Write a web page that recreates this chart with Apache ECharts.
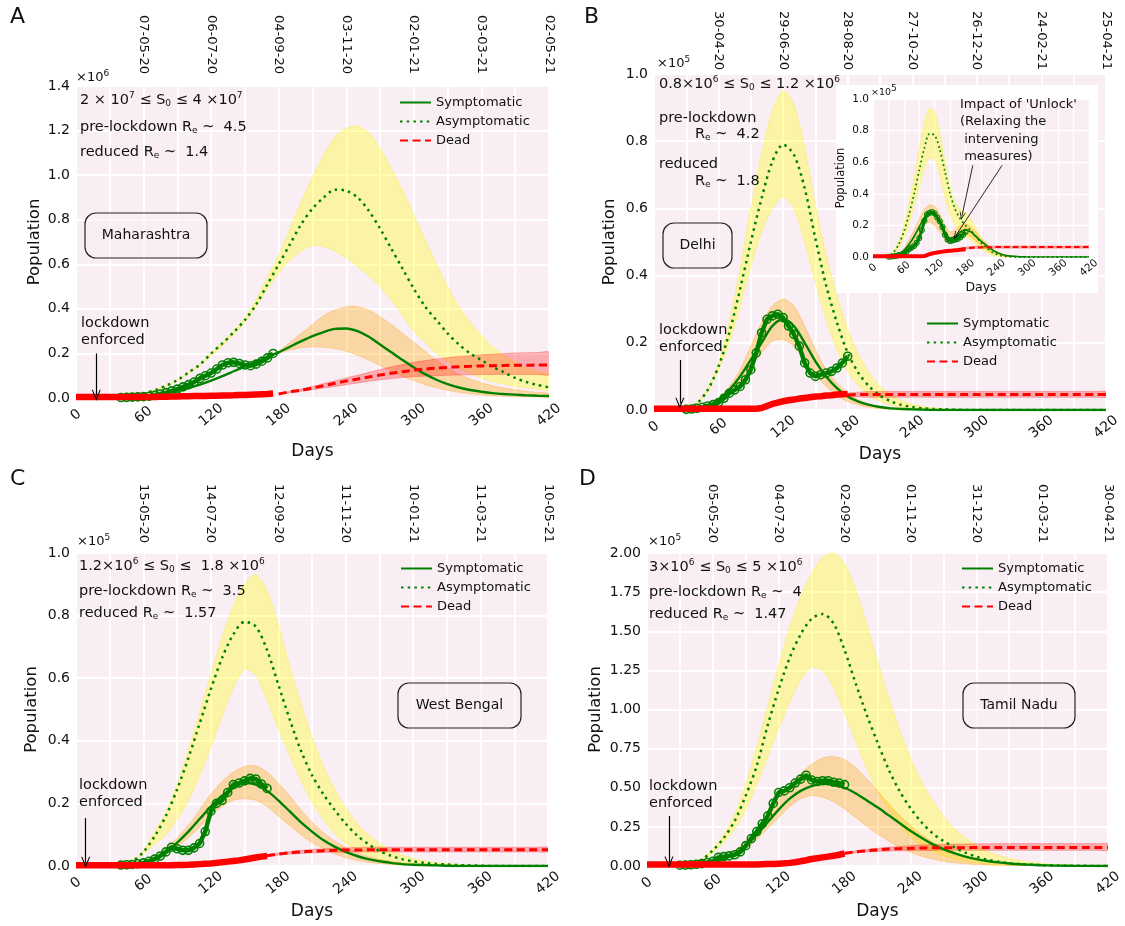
<!DOCTYPE html>
<html>
<head>
<meta charset="utf-8">
<script src="https://cdn.jsdelivr.net/npm/echarts@6/dist/echarts.min.js"></script>
<style>
html,body{margin:0;padding:0;background:#fff;}
#chart{width:1125px;height:926px;}
</style>
</head>
<body>
<div id="chart"></div>
<script>
// ---------- sampling grid (days) ----------
const DAYS = [0,10,20,30,40,50,60,70,80,90,100,110,120,130,140,150,160,170,180,190,200,210,220,230,240,250,260,270,280,290,300,310,320,330,340,350,360,370,380,390,400,410,420];
const DAYS5 = [0,5,10,15,20,25,30,35,40,45,50,55,60,65,70,75,80,85,90,95,100,105,110,115,120,125,130,135,140,145,150,155,160,165,170,175,180];

// ---------- top axis date labels (days 60..420) ----------
const A_dates = ['07-05-20','06-07-20','04-09-20','03-11-20','02-01-21','03-03-21','02-05-21'];
const B_dates = ['30-04-20','29-06-20','28-08-20','27-10-20','26-12-20','24-02-21','25-04-21'];
const C_dates = ['15-05-20','14-07-20','12-09-20','11-11-20','10-01-21','11-03-21','10-05-21'];
const D_dates = ['05-05-20','04-07-20','02-09-20','01-11-20','31-12-20','01-03-21','30-04-21'];

// ---------- Panel A : Maharashtra (x10^6) ----------
const A_asym   = [0,0,0,0.002,0.005,0.01,0.02,0.035,0.055,0.08,0.115,0.15,0.2,0.245,0.295,0.35,0.42,0.51,0.6,0.69,0.78,0.85,0.9,0.935,0.93,0.9,0.84,0.76,0.67,0.58,0.49,0.41,0.35,0.29,0.24,0.2,0.17,0.14,0.115,0.09,0.072,0.058,0.048];
const A_asymHi = [0,0,0,0.002,0.005,0.01,0.02,0.035,0.055,0.08,0.115,0.15,0.2,0.25,0.3,0.36,0.44,0.54,0.64,0.76,0.88,0.99,1.09,1.17,1.21,1.22,1.19,1.12,1.03,0.93,0.82,0.71,0.6,0.5,0.41,0.34,0.28,0.23,0.19,0.16,0.135,0.118,0.105];
const A_asymLo = [0,0,0,0.002,0.005,0.01,0.02,0.034,0.053,0.078,0.11,0.145,0.19,0.235,0.285,0.34,0.41,0.49,0.56,0.62,0.66,0.685,0.68,0.66,0.63,0.59,0.55,0.5,0.44,0.37,0.3,0.25,0.2,0.165,0.135,0.11,0.09,0.075,0.063,0.053,0.046,0.04,0.036];
const A_sym    = [0,0,0,0,0.001,0.003,0.006,0.01,0.021,0.032,0.045,0.06,0.078,0.098,0.12,0.142,0.163,0.185,0.205,0.23,0.255,0.278,0.296,0.31,0.312,0.3,0.275,0.24,0.205,0.17,0.137,0.107,0.082,0.062,0.047,0.036,0.028,0.022,0.018,0.015,0.012,0.01,0.009];
const A_symHi  = [0,0,0,0,0.001,0.003,0.006,0.01,0.021,0.032,0.045,0.06,0.078,0.098,0.12,0.142,0.163,0.186,0.21,0.25,0.29,0.33,0.37,0.395,0.41,0.41,0.395,0.365,0.33,0.29,0.25,0.21,0.17,0.135,0.107,0.085,0.068,0.055,0.045,0.037,0.03,0.025,0.021];
const A_symLo  = [0,0,0,0,0.001,0.003,0.006,0.01,0.02,0.031,0.044,0.058,0.076,0.096,0.117,0.139,0.16,0.182,0.2,0.215,0.225,0.23,0.228,0.222,0.21,0.192,0.17,0.145,0.12,0.098,0.078,0.06,0.046,0.035,0.026,0.019,0.014,0.01,0.008,0.006,0.005,0.004,0.003];
const A_dead   = [null,null,null,null,null,null,null,null,null,null,null,null,null,null,null,null,null,null,0.018,0.028,0.035,0.045,0.055,0.066,0.076,0.085,0.094,0.103,0.111,0.118,0.125,0.13,0.134,0.137,0.14,0.142,0.144,0.145,0.146,0.147,0.147,0.148,0.148];
const A_deadHi = [null,null,null,null,null,null,null,null,null,null,null,null,null,null,null,null,null,null,0.02,0.03,0.04,0.052,0.065,0.077,0.09,0.102,0.115,0.128,0.14,0.15,0.16,0.168,0.175,0.181,0.186,0.19,0.194,0.197,0.2,0.202,0.203,0.204,0.205];
const A_deadLo = [null,null,null,null,null,null,null,null,null,null,null,null,null,null,null,null,null,null,0.016,0.023,0.03,0.037,0.045,0.052,0.06,0.067,0.075,0.081,0.087,0.092,0.096,0.098,0.1,0.102,0.103,0.104,0.105,0.105,0.106,0.106,0.106,0.106,0.106];
const A_obsDays = DAYS5.slice(8, 36);
const A_obs    = [0.002,0.003,0.004,0.005,0.006,0.008,0.012,0.018,0.024,0.032,0.04,0.05,0.06,0.072,0.088,0.1,0.112,0.13,0.148,0.158,0.16,0.155,0.148,0.145,0.152,0.165,0.18,0.2];
const A_deathDays = DAYS5.slice(0, 36);
const A_deaths = [0.004,0.004,0.004,0.004,0.004,0.004,0.004,0.004,0.004,0.004,0.004,0.004,0.004,0.0045,0.005,0.0055,0.006,0.0065,0.007,0.0075,0.008,0.0085,0.009,0.0095,0.01,0.0105,0.011,0.0115,0.012,0.013,0.014,0.015,0.016,0.017,0.018,0.02];

// ---------- Panel B : Delhi (x10^5) ----------
const B_asym   = [0,0,0,0.003,0.02,0.06,0.13,0.23,0.36,0.5,0.63,0.74,0.79,0.76,0.66,0.51,0.37,0.26,0.17,0.11,0.07,0.043,0.026,0.015,0.009,0.005,0.003,0.002,0.001,0,0,0,0,0,0,0,0,0,0,0,0,0,0];
const B_asymHi = [0,0,0,0.003,0.021,0.065,0.14,0.26,0.42,0.6,0.76,0.89,0.95,0.91,0.78,0.61,0.46,0.34,0.24,0.165,0.11,0.07,0.045,0.028,0.017,0.01,0.006,0.003,0.002,0.001,0,0,0,0,0,0,0,0,0,0,0,0,0];
const B_asymLo = [0,0,0,0.003,0.019,0.055,0.12,0.2,0.31,0.43,0.53,0.6,0.635,0.6,0.5,0.38,0.27,0.18,0.115,0.072,0.044,0.026,0.015,0.009,0.005,0.003,0.002,0.001,0,0,0,0,0,0,0,0,0,0,0,0,0,0,0];
const B_sym    = [0,0,0,0.001,0.004,0.012,0.03,0.06,0.1,0.15,0.2,0.25,0.27,0.25,0.2,0.145,0.1,0.065,0.04,0.025,0.015,0.009,0.005,0.003,0.002,0.001,0,0,0,0,0,0,0,0,0,0,0,0,0,0,0,0,0];
const B_symHi  = [0,0,0,0.001,0.005,0.015,0.035,0.07,0.12,0.19,0.26,0.31,0.33,0.31,0.25,0.18,0.12,0.08,0.05,0.03,0.018,0.01,0.006,0.003,0.002,0.001,0,0,0,0,0,0,0,0,0,0,0,0,0,0,0,0,0];
const B_symLo  = [0,0,0,0.001,0.003,0.008,0.02,0.045,0.08,0.13,0.17,0.205,0.21,0.19,0.15,0.105,0.07,0.042,0.025,0.015,0.008,0.004,0.002,0.001,0,0,0,0,0,0,0,0,0,0,0,0,0,0,0,0,0,0,0];
const B_dead   = [null,null,null,null,null,null,null,null,null,null,null,null,null,null,null,null,null,null,0.045,0.046,0.046,0.046,0.046,0.046,0.046,0.046,0.046,0.046,0.046,0.046,0.046,0.046,0.046,0.046,0.046,0.046,0.046,0.046,0.046,0.046,0.046,0.046,0.046];
const B_deadHi = [null,null,null,null,null,null,null,null,null,null,null,null,null,null,null,null,null,null,0.05,0.053,0.055,0.055,0.055,0.055,0.055,0.055,0.055,0.055,0.055,0.055,0.055,0.055,0.055,0.055,0.055,0.055,0.055,0.055,0.055,0.055,0.055,0.055,0.055];
const B_deadLo = [null,null,null,null,null,null,null,null,null,null,null,null,null,null,null,null,null,null,0.04,0.039,0.038,0.038,0.038,0.038,0.038,0.038,0.038,0.038,0.038,0.038,0.038,0.038,0.038,0.038,0.038,0.038,0.038,0.038,0.038,0.038,0.038,0.038,0.038];
const B_obsDays = DAYS5.slice(6, 37);
const B_obs    = [0.002,0.003,0.005,0.008,0.012,0.016,0.022,0.035,0.05,0.06,0.07,0.09,0.12,0.17,0.23,0.27,0.28,0.285,0.275,0.25,0.225,0.19,0.14,0.11,0.1,0.105,0.11,0.115,0.125,0.14,0.16];
const B_deathDays = DAYS5.slice(0, 37);
const B_deaths = [0.004,0.004,0.004,0.004,0.004,0.004,0.004,0.004,0.004,0.004,0.004,0.004,0.004,0.004,0.004,0.004,0.004,0.004,0.004,0.004,0.006,0.012,0.018,0.022,0.026,0.029,0.031,0.034,0.036,0.038,0.04,0.041,0.043,0.044,0.046,0.047,0.048];

// ---------- Panel B inset : Delhi with 'Unlock' (x10^5) ----------
const I_asym   = [0,0,0,0,0.03,0.08,0.16,0.27,0.4,0.55,0.69,0.78,0.77,0.68,0.54,0.4,0.3,0.24,0.2,0.17,0.13,0.09,0.06,0.035,0.018,0.008,0.003,0.001,0,0,0,0,0,0,0,0,0,0,0,0,0,0,0];
const I_asymHi = [0,0,0,0,0.04,0.1,0.2,0.33,0.5,0.68,0.85,0.94,0.92,0.78,0.6,0.44,0.34,0.3,0.28,0.24,0.18,0.12,0.075,0.045,0.025,0.012,0.005,0.002,0,0,0,0,0,0,0,0,0,0,0,0,0,0,0];
const I_asymLo = [0,0,0,0,0.02,0.06,0.12,0.21,0.33,0.45,0.56,0.63,0.62,0.52,0.38,0.27,0.2,0.15,0.13,0.11,0.08,0.05,0.03,0.015,0.007,0.003,0.001,0,0,0,0,0,0,0,0,0,0,0,0,0,0,0,0];
const I_sym    = [0,0,0,0,0.005,0.015,0.04,0.08,0.13,0.19,0.25,0.28,0.27,0.22,0.16,0.12,0.13,0.16,0.17,0.16,0.13,0.1,0.075,0.05,0.03,0.017,0.009,0.005,0.002,0.001,0,0,0,0,0,0,0,0,0,0,0,0,0];
const I_symHi  = [0,0,0,0,0.008,0.02,0.055,0.11,0.17,0.24,0.3,0.33,0.32,0.27,0.2,0.16,0.17,0.2,0.21,0.19,0.16,0.12,0.09,0.06,0.035,0.02,0.01,0.005,0.002,0.001,0,0,0,0,0,0,0,0,0,0,0,0,0];
const I_symLo  = [0,0,0,0,0.003,0.01,0.028,0.06,0.1,0.15,0.2,0.22,0.2,0.16,0.11,0.09,0.1,0.13,0.14,0.13,0.1,0.075,0.05,0.03,0.017,0.008,0.004,0.002,0.001,0,0,0,0,0,0,0,0,0,0,0,0,0,0];
const I_dead   = [null,null,null,null,null,null,null,null,null,null,null,null,null,null,null,null,null,0.05,0.055,0.058,0.06,0.061,0.062,0.062,0.063,0.063,0.063,0.063,0.063,0.063,0.063,0.063,0.063,0.063,0.063,0.063,0.063,0.063,0.063,0.063,0.063,0.063,0.063];
const I_deadHi = [null,null,null,null,null,null,null,null,null,null,null,null,null,null,null,null,null,0.055,0.062,0.066,0.068,0.069,0.07,0.07,0.07,0.07,0.07,0.07,0.07,0.07,0.07,0.07,0.07,0.07,0.07,0.07,0.07,0.07,0.07,0.07,0.07,0.07,0.07];
const I_deadLo = [null,null,null,null,null,null,null,null,null,null,null,null,null,null,null,null,null,0.045,0.05,0.052,0.054,0.055,0.056,0.056,0.056,0.056,0.056,0.056,0.056,0.056,0.056,0.056,0.056,0.056,0.056,0.056,0.056,0.056,0.056,0.056,0.056,0.056,0.056];

// ---------- Panel C : West Bengal (x10^5) ----------
const C_asym   = [0,0,0,0,0.003,0.015,0.045,0.095,0.16,0.245,0.345,0.455,0.565,0.665,0.74,0.78,0.765,0.69,0.58,0.47,0.37,0.29,0.23,0.18,0.135,0.098,0.07,0.048,0.033,0.022,0.015,0.01,0.007,0.005,0.003,0.002,0.001,0,0,0,0,0,0];
const C_asymHi = [0,0,0,0,0.003,0.016,0.05,0.11,0.17,0.26,0.37,0.49,0.61,0.73,0.83,0.9,0.93,0.88,0.77,0.64,0.52,0.41,0.32,0.245,0.185,0.135,0.1,0.072,0.05,0.035,0.024,0.016,0.011,0.007,0.005,0.003,0.002,0.001,0,0,0,0,0];
const C_asymLo = [0,0,0,0,0.003,0.014,0.04,0.07,0.1,0.15,0.21,0.29,0.38,0.48,0.57,0.63,0.61,0.53,0.44,0.355,0.275,0.205,0.15,0.105,0.073,0.05,0.034,0.022,0.014,0.009,0.006,0.004,0.002,0.001,0,0,0,0,0,0,0,0,0];
const C_sym    = [0,0,0,0,0.002,0.005,0.012,0.025,0.045,0.075,0.11,0.15,0.19,0.225,0.25,0.265,0.26,0.24,0.21,0.175,0.14,0.11,0.083,0.062,0.045,0.032,0.022,0.015,0.01,0.006,0.004,0.003,0.002,0.001,0,0,0,0,0,0,0,0,0];
const C_symHi  = [0,0,0,0,0.002,0.006,0.015,0.03,0.055,0.09,0.13,0.18,0.23,0.27,0.3,0.318,0.32,0.3,0.265,0.225,0.18,0.14,0.107,0.08,0.06,0.043,0.03,0.021,0.015,0.01,0.007,0.005,0.003,0.002,0.001,0,0,0,0,0,0,0,0];
const C_symLo  = [0,0,0,0,0.001,0.004,0.01,0.02,0.038,0.062,0.09,0.125,0.16,0.19,0.21,0.215,0.21,0.19,0.16,0.13,0.1,0.075,0.055,0.039,0.027,0.018,0.012,0.008,0.005,0.003,0.002,0.001,0,0,0,0,0,0,0,0,0,0,0];
const C_dead   = [null,null,null,null,null,null,null,null,null,null,null,null,null,null,null,null,null,0.033,0.038,0.042,0.045,0.047,0.049,0.05,0.051,0.051,0.052,0.052,0.052,0.052,0.052,0.052,0.052,0.052,0.052,0.052,0.052,0.052,0.052,0.052,0.052,0.052,0.052];
const C_deadHi = [null,null,null,null,null,null,null,null,null,null,null,null,null,null,null,null,null,0.035,0.041,0.046,0.05,0.053,0.055,0.057,0.058,0.059,0.06,0.06,0.06,0.06,0.06,0.06,0.06,0.06,0.06,0.06,0.06,0.06,0.06,0.06,0.06,0.06,0.06];
const C_deadLo = [null,null,null,null,null,null,null,null,null,null,null,null,null,null,null,null,null,0.031,0.035,0.038,0.04,0.042,0.043,0.044,0.044,0.045,0.045,0.045,0.045,0.045,0.045,0.045,0.045,0.045,0.045,0.045,0.045,0.045,0.045,0.045,0.045,0.045,0.045];
const C_obsDays = DAYS5.slice(8, 35);
const C_obs    = [0.003,0.004,0.005,0.007,0.01,0.015,0.022,0.032,0.045,0.06,0.055,0.05,0.05,0.058,0.072,0.11,0.175,0.2,0.21,0.235,0.26,0.265,0.272,0.28,0.278,0.262,0.248];
const C_deathDays = DAYS5.slice(0, 35);
const C_deaths = [0.002,0.002,0.002,0.002,0.002,0.002,0.002,0.002,0.002,0.002,0.002,0.002,0.002,0.002,0.002,0.002,0.002,0.0025,0.003,0.0035,0.004,0.005,0.006,0.007,0.008,0.01,0.012,0.014,0.016,0.018,0.021,0.024,0.027,0.03,0.032];

// ---------- Panel D : Tamil Nadu (x10^5) ----------
const D_asym   = [0,0,0,0.002,0.01,0.04,0.1,0.18,0.29,0.45,0.64,0.9,1.13,1.33,1.48,1.58,1.61,1.55,1.38,1.17,0.97,0.79,0.62,0.48,0.37,0.28,0.21,0.16,0.12,0.085,0.06,0.04,0.028,0.018,0.012,0.008,0.005,0.003,0.002,0.001,0.001,0,0];
const D_asymHi = [0,0,0,0.002,0.011,0.045,0.11,0.2,0.33,0.52,0.76,1.02,1.28,1.52,1.72,1.87,1.97,2.0,1.93,1.77,1.55,1.31,1.08,0.87,0.69,0.54,0.42,0.32,0.24,0.18,0.13,0.095,0.068,0.048,0.034,0.024,0.016,0.011,0.007,0.005,0.003,0.002,0.001];
const D_asymLo = [0,0,0,0.002,0.009,0.035,0.085,0.15,0.24,0.36,0.52,0.7,0.88,1.05,1.19,1.27,1.25,1.14,0.98,0.8,0.63,0.48,0.36,0.26,0.19,0.135,0.095,0.066,0.045,0.03,0.02,0.013,0.008,0.005,0.003,0.002,0.001,0,0,0,0,0,0];
const D_sym    = [0,0,0,0.001,0.004,0.01,0.02,0.045,0.08,0.13,0.2,0.28,0.36,0.43,0.48,0.51,0.525,0.52,0.5,0.465,0.42,0.375,0.325,0.275,0.225,0.18,0.14,0.108,0.082,0.06,0.044,0.032,0.023,0.016,0.011,0.008,0.005,0.003,0.002,0.001,0.001,0,0];
const D_symHi  = [0,0,0,0.001,0.005,0.013,0.03,0.06,0.1,0.16,0.24,0.33,0.42,0.51,0.59,0.65,0.69,0.7,0.68,0.63,0.56,0.48,0.4,0.325,0.26,0.2,0.155,0.118,0.088,0.065,0.048,0.035,0.025,0.018,0.012,0.008,0.005,0.003,0.002,0.001,0,0,0];
const D_symLo  = [0,0,0,0.001,0.003,0.008,0.02,0.04,0.07,0.11,0.17,0.24,0.31,0.38,0.43,0.45,0.44,0.41,0.365,0.31,0.255,0.205,0.16,0.12,0.088,0.063,0.045,0.031,0.021,0.014,0.009,0.006,0.004,0.002,0.001,0,0,0,0,0,0,0,0];
const D_dead   = [null,null,null,null,null,null,null,null,null,null,null,null,null,null,null,null,null,null,0.082,0.09,0.097,0.103,0.108,0.111,0.113,0.115,0.116,0.117,0.117,0.117,0.118,0.118,0.118,0.118,0.118,0.118,0.118,0.118,0.118,0.118,0.118,0.118,0.118];
const D_deadHi = [null,null,null,null,null,null,null,null,null,null,null,null,null,null,null,null,null,null,0.085,0.096,0.105,0.113,0.12,0.125,0.13,0.134,0.137,0.139,0.14,0.141,0.142,0.142,0.143,0.143,0.143,0.143,0.143,0.143,0.143,0.143,0.143,0.143,0.143];
const D_deadLo = [null,null,null,null,null,null,null,null,null,null,null,null,null,null,null,null,null,null,0.078,0.084,0.09,0.093,0.095,0.097,0.098,0.099,0.099,0.1,0.1,0.1,0.1,0.1,0.1,0.1,0.1,0.1,0.1,0.1,0.1,0.1,0.1,0.1,0.1];
const D_obsDays = DAYS5.slice(6, 37);
const D_obs    = [0.005,0.006,0.008,0.011,0.015,0.022,0.03,0.055,0.06,0.065,0.072,0.09,0.13,0.175,0.22,0.27,0.32,0.4,0.47,0.48,0.5,0.53,0.555,0.58,0.55,0.54,0.545,0.545,0.535,0.53,0.52];
const D_deathDays = DAYS5.slice(0, 37);
const D_deaths = [0.01,0.01,0.01,0.01,0.01,0.01,0.01,0.01,0.01,0.01,0.01,0.01,0.01,0.01,0.01,0.01,0.01,0.01,0.01,0.01,0.01,0.011,0.012,0.013,0.015,0.017,0.02,0.024,0.03,0.037,0.045,0.05,0.055,0.06,0.065,0.072,0.08];

// ---------- styling ----------
const FONT = 'DejaVu Sans';
const BG = '#f9eef4';
const GREEN = '#008000';
const RED = '#ff0000';
const TXT = '#111';
const CHEV = 'path://M0,12 L6,0 L12,12 L10.6,12 L6,3.2 L1.4,12 Z';

const chart = echarts.init(document.getElementById('chart'), null, {renderer: 'canvas'});

function pairs(xs, ys) { return xs.map((d, i) => [d, ys[i]]); }

// band between two curves: one polygon through the axis scales (api.coord)
function bandSeries(xi, lo, hi, fill, edge, z) {
  const idx = DAYS.map((d, i) => i).filter(i => lo[i] != null && hi[i] != null);
  return {
    type:'custom', name:'_band', xAxisIndex:xi, yAxisIndex:xi, z:z, silent:true, clip:true,
    data:idx.map(i => [DAYS[i], lo[i], hi[i]]),
    encode:{x:0, y:[1, 2]},
    renderItem:function (params, api) {
      if (params.dataIndex !== 0) return null;
      const up = idx.map(i => api.coord([DAYS[i], hi[i]]));
      const dn = idx.slice().reverse().map(i => api.coord([DAYS[i], lo[i]]));
      return {type:'polygon', shape:{points:up.concat(dn), smooth:0.25},
        style:{fill:fill, stroke:edge, lineWidth:1}};
    }
  };
}

function panel(p) {
  const k = p.small ? 0.7 : 1;
  const zb = p.zb;
  const s = [];
  s.push(bandSeries(p.xi, p.asymLo, p.asymHi, 'rgba(255,255,0,0.32)', 'rgba(255,235,0,0.35)', zb));
  s.push(bandSeries(p.xi, p.symLo, p.symHi, 'rgba(255,165,0,0.32)', 'rgba(255,150,0,0.3)', zb));
  s.push(bandSeries(p.xi, p.deadLo, p.deadHi, 'rgba(255,0,0,0.28)', 'rgba(255,0,0,0.25)', zb));
  s.push({type:'line', name:'Asymptomatic', xAxisIndex:p.xi, yAxisIndex:p.xi, data:pairs(DAYS, p.asym),
    smooth:0.3, symbol:'none', showSymbol:false, z:zb + 2,
    lineStyle:{color:GREEN, width:2.5 * k, type:[2.5 * k, 4.2 * k], cap:'butt'}, itemStyle:{color:GREEN}});
  s.push({type:'line', name:'_obs', xAxisIndex:p.xi, yAxisIndex:p.xi, data:pairs(p.obsDays, p.obs),
    symbol:'circle', symbolSize:p.small ? 5 : 8, showSymbol:true, showAllSymbol:true, z:zb + 3, silent:true,
    itemStyle:{color:'rgba(0,0,0,0)', borderColor:GREEN, borderWidth:p.small ? 1.1 : 1.6},
    lineStyle:{color:GREEN, width:p.small ? 3 : 4.5}});
  s.push({type:'line', name:'Symptomatic', xAxisIndex:p.xi, yAxisIndex:p.xi, data:pairs(DAYS, p.sym),
    smooth:0.3, symbol:'none', showSymbol:false, z:zb + 2,
    lineStyle:{color:GREEN, width:2.4 * k}, itemStyle:{color:GREEN},
    markLine:{silent:true, symbol:['none', CHEV], symbolSize:[9 * k, 11 * k], animation:false, z:12,
      lineStyle:{color:'#000', width:1.2 * k, type:'solid'}, label:{show:false},
      data:p.arrows.map(a => [{coord:[a[0], a[1]]}, {coord:[a[2], a[3]]}])}});
  s.push({type:'line', name:'Dead', xAxisIndex:p.xi, yAxisIndex:p.xi, data:pairs(DAYS, p.dead),
    smooth:0.3, symbol:'none', showSymbol:false, z:zb + 2,
    lineStyle:{color:RED, width:3 * k, type:[8 * k, 4.5 * k]}, itemStyle:{color:RED}});
  s.push({type:'line', name:'_deaths', xAxisIndex:p.xi, yAxisIndex:p.xi, data:pairs(p.deathDays, p.deaths),
    symbol:'none', z:zb + 4, silent:true, lineStyle:{color:RED, width:p.small ? 4 : 6.5}});
  return s;
}

function xBottom(gi, fs, margin, nameGap, nameFs, z) {
  return {type:'value', gridIndex:gi, position:'bottom', min:0, max:420, interval:30, z:z,
    axisLine:{show:false}, axisTick:{show:false},
    splitLine:{show:true, lineStyle:{color:'#fff', width:gi === 4 ? 1.3 : 2}},
    axisLabel:{fontSize:fs, color:TXT, fontFamily:FONT, rotate:40, align:'center', verticalAlign:'middle', margin:margin,
      formatter:v => (v % 60 === 0 ? String(v) : '')},
    name:'Days', nameLocation:'middle', nameGap:nameGap, nameTextStyle:{fontSize:nameFs, color:TXT, fontFamily:FONT}};
}
function xTop(gi, labels, margin) {
  return {type:'value', gridIndex:gi, position:'top', min:0, max:420, interval:60,
    axisLine:{show:false}, axisTick:{show:false}, splitLine:{show:false},
    axisLabel:{fontSize:13, color:TXT, fontFamily:FONT, rotate:90, margin:margin,
      formatter:v => (v === 0 ? '' : labels[Math.round(v / 60) - 1])}};
}
function yAx(gi, max, interval, digits, fs, margin, nameGap, nameFs, z) {
  return {type:'value', gridIndex:gi, min:0, max:max, interval:interval, z:z,
    axisLine:{show:false}, axisTick:{show:false},
    splitLine:{show:true, lineStyle:{color:'#fff', width:gi === 4 ? 1.3 : 2}},
    axisLabel:{fontSize:fs, color:TXT, fontFamily:FONT, margin:margin, formatter:v => v.toFixed(digits)},
    name:'Population', nameLocation:'middle', nameGap:nameGap, nameTextStyle:{fontSize:nameFs, color:TXT, fontFamily:FONT}};
}

function legend(left, top) {
  return {orient:'vertical', left:left, top:top, padding:0, itemWidth:31, itemHeight:14, itemGap:6,
    selectedMode:false, data:['Symptomatic', 'Asymptomatic', 'Dead'],
    itemStyle:{opacity:0},
    textStyle:{fontSize:13, color:TXT, fontFamily:FONT}};
}

const RICH = {
  sup:{fontSize:9, fontFamily:FONT, fill:TXT, padding:[0, 0, 8, 0]},
  sub:{fontSize:9, fontFamily:FONT, fill:TXT, padding:[7, 0, 0, 0]}
};
function txt(x, y, text, fs, extra) {
  return Object.assign({type:'text', x:x, y:y, z:30, silent:true,
    style:{text:text, fontSize:fs, fontFamily:FONT, fill:TXT, align:'left', verticalAlign:'middle',
      textAlign:'left', textVerticalAlign:'middle', rich:RICH}}, extra || {});
}
function multiline(x, y, text, fs, lh) {
  return {type:'text', x:x, y:y, z:30, silent:true,
    style:{text:text, fontSize:fs, fontFamily:FONT, fill:TXT, lineHeight:lh, align:'left', verticalAlign:'top',
      textAlign:'left', textVerticalAlign:'top'}};
}
function box(x, y, w, h, label) {
  return [
    {type:'rect', z:25, silent:true, shape:{x:x, y:y, width:w, height:h, r:11},
      style:{fill:'rgba(249,238,244,0.55)', stroke:'#222', lineWidth:1.2}},
    {type:'text', z:26, silent:true, x:x + w / 2, y:y + h / 2,
      style:{text:label, fontSize:14, fontFamily:FONT, fill:TXT, align:'center', verticalAlign:'middle',
        textAlign:'center', textVerticalAlign:'middle'}}
  ];
}

const graphics = [
  // inset white panel
  {type:'rect', z:3, silent:true, shape:{x:836, y:85, width:262, height:208}, style:{fill:'#ffffff'}},
  // panel letters
  txt(10, 17, 'A', 22), txt(584, 17, 'B', 22), txt(10, 479, 'C', 22), txt(579, 479, 'D', 22),
  // multipliers
  txt(76, 78, '×10{sup|6}', 13), txt(657, 64, '×10{sup|5}', 13), txt(77, 542, '×10{sup|5}', 13),
  txt(648, 542, '×10{sup|5}', 13), txt(871, 93, '×10{sup|5}', 9.5, {z:40}),
  // info A
  txt(80, 100, '2 × 10{sup|7} ≤ S{sub|0} ≤ 4 ×10{sup|7}', 14.5),
  txt(80, 127, 'pre-lockdown R{sub|e} ~  4.5', 14.5),
  txt(80, 152, 'reduced R{sub|e} ~  1.4', 14.5),
  // info B
  txt(659, 84, '0.8×10{sup|6} ≤ S{sub|0} ≤ 1.2 ×10{sup|6}', 14.5),
  txt(659, 118, 'pre-lockdown', 14.5),
  txt(695, 134, 'R{sub|e} ~  4.2', 14.5),
  txt(659, 164, 'reduced', 14.5),
  txt(695, 181, 'R{sub|e} ~  1.8', 14.5),
  // info C
  txt(79, 566, '1.2×10{sup|6} ≤ S{sub|0} ≤  1.8 ×10{sup|6}', 14.5),
  txt(79, 591, 'pre-lockdown R{sub|e} ~  3.5', 14.5),
  txt(79, 613, 'reduced R{sub|e} ~  1.57', 14.5),
  // info D
  txt(649, 567, '3×10{sup|6} ≤ S{sub|0} ≤ 5 ×10{sup|6}', 14.5),
  txt(649, 592, 'pre-lockdown R{sub|e} ~  4', 14.5),
  txt(649, 614, 'reduced R{sub|e} ~  1.47', 14.5),
  // lockdown notes
  multiline(81, 315, 'lockdown\nenforced', 14.5, 16.5),
  multiline(659, 322, 'lockdown\nenforced', 14.5, 16.5),
  multiline(79, 777, 'lockdown\nenforced', 14.5, 16.5),
  multiline(649, 778, 'lockdown\nenforced', 14.5, 16.5),
  // inset annotation
  Object.assign(multiline(960, 96, "Impact of 'Unlock'\n(Relaxing the\n intervening\n measures)", 13, 17.3), {z:40}),
  // state boxes
  ...box(85, 213, 122, 45, 'Maharashtra'),
  ...box(663, 223, 69, 45, 'Delhi'),
  ...box(398, 683, 123, 45, 'West Bengal'),
  ...box(963, 683, 112, 45, 'Tamil Nadu')
];

const series = [].concat(
  panel({xi:0, zb:1, asym:A_asym, asymLo:A_asymLo, asymHi:A_asymHi, sym:A_sym, symLo:A_symLo, symHi:A_symHi,
    dead:A_dead, deadLo:A_deadLo, deadHi:A_deadHi, obsDays:A_obsDays, obs:A_obs, deathDays:A_deathDays, deaths:A_deaths,
    arrows:[[18, 0.2, 18, 0.012]]}),
  panel({xi:1, zb:1, asym:B_asym, asymLo:B_asymLo, asymHi:B_asymHi, sym:B_sym, symLo:B_symLo, symHi:B_symHi,
    dead:B_dead, deadLo:B_deadLo, deadHi:B_deadHi, obsDays:B_obsDays, obs:B_obs, deathDays:B_deathDays, deaths:B_deaths,
    arrows:[[24, 0.149, 24, 0.02]]}),
  panel({xi:2, zb:1, asym:C_asym, asymLo:C_asymLo, asymHi:C_asymHi, sym:C_sym, symLo:C_symLo, symHi:C_symHi,
    dead:C_dead, deadLo:C_deadLo, deadHi:C_deadHi, obsDays:C_obsDays, obs:C_obs, deathDays:C_deathDays, deaths:C_deaths,
    arrows:[[8.6, 0.153, 8.6, 0.012]]}),
  panel({xi:3, zb:1, asym:D_asym, asymLo:D_asymLo, asymHi:D_asymHi, sym:D_sym, symLo:D_symLo, symHi:D_symHi,
    dead:D_dead, deadLo:D_deadLo, deadHi:D_deadHi, obsDays:D_obsDays, obs:D_obs, deathDays:D_deathDays, deaths:D_deaths,
    arrows:[[20, 0.32, 20, 0.025]]}),
  panel({xi:4, zb:6, small:true, asym:I_asym, asymLo:I_asymLo, asymHi:I_asymHi, sym:I_sym, symLo:I_symLo, symHi:I_symHi,
    dead:I_dead, deadLo:I_deadLo, deadHi:I_deadHi, obsDays:B_obsDays, obs:B_obs, deathDays:B_deathDays, deaths:B_deaths,
    arrows:[[194, 0.58, 173, 0.26], [251, 0.58, 161, 0.135]]})
);

const option = {
  animation:false,
  backgroundColor:'#ffffff',
  textStyle:{fontFamily:FONT},
  grid:[
    {left:76, top:86, width:473, height:312, show:true, backgroundColor:BG, borderWidth:0},
    {left:654, top:74, width:452, height:336, show:true, backgroundColor:BG, borderWidth:0},
    {left:76, top:553, width:472, height:313, show:true, backgroundColor:BG, borderWidth:0},
    {left:647, top:553, width:463, height:313, show:true, backgroundColor:BG, borderWidth:0},
    {left:873, top:99, width:216, height:158, show:true, backgroundColor:BG, borderWidth:0, z:4}
  ],
  xAxis:[
    xBottom(0, 14, 17, 45, 17, 0),
    xBottom(1, 14, 17, 36, 17, 0),
    xBottom(2, 14, 17, 37, 17, 0),
    xBottom(3, 14, 17, 37, 17, 0),
    xBottom(4, 10.5, 11, 21, 12.5, 4),
    xTop(0, A_dates, 12),
    xTop(1, B_dates, 4),
    xTop(2, C_dates, 10),
    xTop(3, D_dates, 10)
  ],
  yAxis:[
    yAx(0, 1.4, 0.2, 1, 14, 6, 33, 16.5, 0),
    yAx(1, 1.0, 0.2, 1, 14, 6, 36, 16.5, 0),
    yAx(2, 1.0, 0.2, 1, 14, 6, 36, 16.5, 0),
    yAx(3, 2.0, 0.25, 2, 14, 6, 43, 16.5, 0),
    yAx(4, 1.0, 0.2, 1, 10.5, 4, 26, 11.5, 4)
  ],
  legend:[legend(399, 96), legend(926, 317), legend(400, 562), legend(961, 562)],
  graphic:graphics,
  series:series
};
chart.setOption(option);
</script>
</body>
</html>
